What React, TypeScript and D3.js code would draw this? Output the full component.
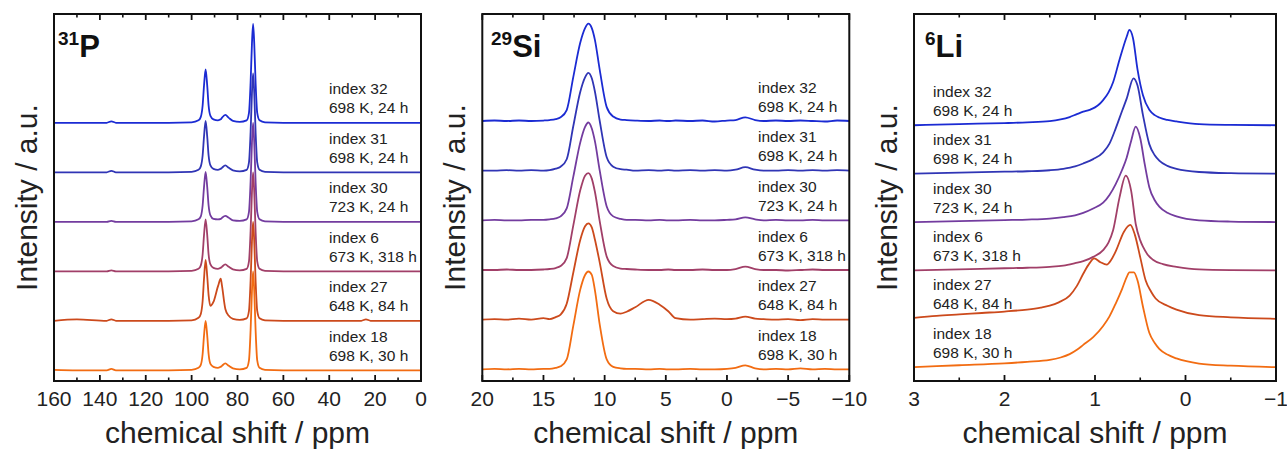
import React from 'react';
import * as d3 from 'd3';

// ---- data ----
const sampleLabels = ['index 32', 'index 31', 'index 30', 'index 6', 'index 27', 'index 18'];
const conditions = ['698 K, 24 h', '698 K, 24 h', '723 K, 24 h', '673 K, 318 h', '648 K, 84 h', '698 K, 30 h'];
const colors = ['#1b2bd3', '#3035b5', '#733c9f', '#a13f68', '#cc4a1c', '#f26c12'];
const offsets = [5, 4, 3, 2, 1, 0];

// 31P
const pShift = [160, 150, 137, 135, 133, 120, 110, 100, 97, 96, 95.2, 94.6, 93.9, 93.2, 92.6, 91.8, 90.5, 88.5, 87.3, 86.8, 85.3, 83.8, 82, 79, 76, 75, 74.3, 73.7, 73.2, 72.7, 72.1, 71.4, 70.4, 68, 60, 40, 26, 24, 22, 10, 0];
const p32 = [0, 0, 0, 0.03, 0, 0, 0, 0.01, 0.05, 0.12, 0.35, 0.75, 1.08, 0.75, 0.35, 0.14, 0.07, 0.05, 0.07, 0.1, 0.16, 0.1, 0.04, 0.02, 0.05, 0.2, 0.8, 1.6, 2.0, 1.6, 0.8, 0.2, 0.05, 0.01, 0, 0, 0, 0, 0, 0, 0];
const p31 = [0, 0, 0, 0.03, 0, 0, 0, 0.01, 0.05, 0.12, 0.34, 0.72, 1.04, 0.72, 0.34, 0.14, 0.07, 0.05, 0.07, 0.09, 0.14, 0.09, 0.04, 0.02, 0.05, 0.2, 0.8, 1.6, 2.0, 1.6, 0.8, 0.2, 0.05, 0.01, 0, 0, 0, 0, 0, 0, 0];
const p30 = [0, 0, 0, 0.02, 0, 0, 0, 0.01, 0.05, 0.11, 0.33, 0.7, 1.01, 0.7, 0.33, 0.13, 0.06, 0.05, 0.06, 0.08, 0.12, 0.08, 0.03, 0.02, 0.05, 0.2, 0.8, 1.6, 2.0, 1.6, 0.8, 0.2, 0.05, 0.01, 0, 0, 0, 0, 0, 0, 0];
const p6 = [0, 0, 0, 0.02, 0, 0, 0, 0.01, 0.05, 0.12, 0.34, 0.73, 1.05, 0.73, 0.34, 0.14, 0.07, 0.05, 0.07, 0.09, 0.14, 0.09, 0.04, 0.02, 0.05, 0.2, 0.8, 1.6, 2.0, 1.6, 0.8, 0.2, 0.05, 0.01, 0, 0, 0, 0, 0, 0, 0];
const p27 = [0, 0.03, 0, 0.03, 0, 0, 0, 0.01, 0.06, 0.14, 0.4, 0.85, 1.23, 0.9, 0.52, 0.3, 0.38, 0.7, 0.85, 0.72, 0.24, 0.1, 0.04, 0.02, 0.05, 0.2, 0.8, 1.6, 2.0, 1.6, 0.8, 0.2, 0.05, 0.01, 0, 0, 0, 0.03, 0, 0, 0];
const p18 = [0.01, 0, 0, 0.03, 0, 0, 0, 0.01, 0.05, 0.11, 0.33, 0.7, 1.0, 0.7, 0.33, 0.13, 0.07, 0.05, 0.07, 0.09, 0.14, 0.09, 0.04, 0.02, 0.05, 0.2, 0.8, 1.6, 2.0, 1.6, 0.8, 0.2, 0.05, 0.01, 0, 0, 0, 0, 0, 0, 0];

// 29Si
const siShift = [20, 19, 18, 17, 16, 15, 14.5, 14, 13.6, 13.1, 12.56, 12.0, 11.6, 11.33, 11.05, 10.8, 10.4, 9.83, 9.3, 8.7, 8.2, 7.5, 6.4, 5.5, 4.8, 4.2, 3, 2, 1, 0, -0.7, -1.5, -2.3, -3, -4, -5, -6, -7, -8, -9, -10];
const si32 = [0, 0.01, 0, 0.01, 0, 0.01, 0.02, 0.04, 0.075, 0.22, 0.89, 1.57, 1.87, 1.96, 1.87, 1.64, 1.03, 0.28, 0.09, 0.03, 0.02, 0.01, 0, 0.01, 0, 0.01, 0, 0.01, -0.01, 0.01, 0.02, 0.075, 0.02, 0, 0.01, 0, 0.01, 0, -0.01, 0.01, 0];
const si31 = [0, 0, 0.01, 0, 0.01, 0, 0.01, 0.04, 0.08, 0.23, 0.9, 1.58, 1.88, 1.97, 1.86, 1.6, 1.0, 0.27, 0.08, 0.03, 0.02, 0, 0.01, 0, 0.01, 0, 0.01, 0, 0.01, 0, 0.02, 0.07, 0.02, 0, 0, 0.01, 0, 0.01, 0, 0.01, 0];
const si30 = [0, 0.01, 0, 0, 0.01, 0.01, 0.02, 0.04, 0.08, 0.24, 0.88, 1.56, 1.88, 1.97, 1.85, 1.6, 1.0, 0.28, 0.08, 0.03, 0.01, 0.01, 0, 0.01, 0, 0, 0.01, 0, 0, 0.01, 0.02, 0.06, 0.02, 0, 0.01, 0, 0, 0.01, 0, 0, 0];
const si6 = [0, 0, 0.01, 0, 0, 0.01, 0.02, 0.04, 0.08, 0.24, 0.9, 1.6, 1.9, 1.95, 1.84, 1.58, 0.98, 0.27, 0.08, 0.03, 0.02, 0.01, 0, 0, 0.01, 0, 0, 0.01, 0, 0, 0.02, 0.07, 0.02, 0, 0, -0.01, 0, 0.01, 0, 0, 0];
const si27 = [0, 0.01, 0, 0.02, 0, 0.03, 0.01, 0.05, 0.1, 0.32, 0.95, 1.6, 1.88, 1.94, 1.86, 1.62, 1.15, 0.42, 0.17, 0.12, 0.16, 0.25, 0.4, 0.3, 0.17, 0.03, 0, 0.01, 0.02, 0.01, 0.02, 0.06, 0.02, 0.01, 0, 0.01, -0.01, 0.01, 0, 0, 0];
const si18 = [0, 0.01, 0, 0.01, 0, 0.01, 0.01, 0.03, 0.06, 0.2, 0.88, 1.6, 1.9, 1.97, 1.9, 1.6, 0.9, 0.2, 0.05, 0.02, 0.01, 0.01, 0, 0.01, 0, 0, 0.01, 0, 0, 0.01, 0.03, 0.08, 0.02, 0, 0.01, 0, 0.02, 0, 0.01, 0, 0];

// 6Li  [ppm, intensity]
const li32: [number, number][] = [[3, 0], [2.5, 0.025], [2.0, 0.045], [1.75, 0.06], [1.5, 0.085], [1.38, 0.12], [1.28, 0.17], [1.2, 0.23], [1.13, 0.28], [1.06, 0.32], [1.0, 0.37], [0.95, 0.44], [0.91, 0.52], [0.85, 0.68], [0.8, 0.89], [0.73, 1.35], [0.65, 1.83], [0.62, 1.97], [0.58, 1.8], [0.53, 1.15], [0.47, 0.62], [0.4, 0.32], [0.34, 0.21], [0.29, 0.16], [0.2, 0.11], [0.1, 0.08], [-0.15, 0.025], [-0.5, 0.008], [-1, 0]];
const li31: [number, number][] = [[3, 0], [2.5, 0.02], [2.0, 0.04], [1.75, 0.05], [1.5, 0.07], [1.35, 0.1], [1.22, 0.15], [1.13, 0.21], [1.02, 0.3], [0.91, 0.44], [0.84, 0.62], [0.77, 0.94], [0.7, 1.3], [0.65, 1.55], [0.574, 1.97], [0.53, 1.82], [0.47, 1.21], [0.4, 0.61], [0.34, 0.38], [0.29, 0.27], [0.2, 0.16], [0.1, 0.1], [-0.15, 0.034], [-0.5, 0.01], [-1, 0]];
const li30: [number, number][] = [[3, 0], [2.5, 0.02], [2.0, 0.04], [1.75, 0.05], [1.5, 0.07], [1.35, 0.1], [1.22, 0.14], [1.13, 0.19], [1.02, 0.28], [0.91, 0.4], [0.84, 0.56], [0.77, 0.79], [0.7, 1.08], [0.65, 1.33], [0.6, 1.68], [0.55, 1.97], [0.5, 1.73], [0.45, 1.19], [0.4, 0.72], [0.34, 0.45], [0.29, 0.32], [0.2, 0.19], [0.1, 0.115], [-0.15, 0.034], [-0.5, 0.01], [-1, 0]];
const li6: [number, number][] = [[3, 0], [2.5, 0.02], [2.0, 0.045], [1.75, 0.055], [1.5, 0.075], [1.35, 0.1], [1.22, 0.15], [1.13, 0.19], [1.02, 0.28], [0.91, 0.42], [0.85, 0.58], [0.8, 0.83], [0.73, 1.5], [0.66, 1.96], [0.6, 1.64], [0.55, 0.96], [0.5, 0.62], [0.47, 0.49], [0.42, 0.33], [0.36, 0.22], [0.25, 0.13], [0.1, 0.075], [-0.15, 0.02], [-0.5, 0.005], [-1, 0]];
const li27: [number, number][] = [[3, 0.02], [2.75, 0.06], [2.5, 0.09], [2.25, 0.12], [2.0, 0.15], [1.75, 0.19], [1.6, 0.23], [1.5, 0.27], [1.4, 0.34], [1.28, 0.48], [1.2, 0.68], [1.13, 0.93], [1.06, 1.15], [1.01, 1.25], [0.94, 1.17], [0.87, 1.12], [0.82, 1.22], [0.77, 1.4], [0.68, 1.8], [0.61, 1.94], [0.56, 1.74], [0.5, 1.27], [0.44, 0.79], [0.38, 0.56], [0.33, 0.42], [0.2, 0.27], [0.1, 0.19], [-0.15, 0.075], [-0.5, 0.03], [-1, 0]];
const li18: [number, number][] = [[3, 0], [2.5, 0.04], [2.0, 0.08], [1.75, 0.11], [1.5, 0.15], [1.38, 0.2], [1.28, 0.27], [1.2, 0.36], [1.13, 0.46], [1.02, 0.62], [0.91, 0.85], [0.84, 1.05], [0.77, 1.32], [0.7, 1.62], [0.65, 1.86], [0.62, 1.96], [0.57, 1.96], [0.53, 1.79], [0.47, 1.25], [0.4, 0.71], [0.34, 0.5], [0.29, 0.38], [0.2, 0.26], [0.1, 0.18], [-0.15, 0.075], [-0.5, 0.03], [-1, 0]];

const zipPts = (xs: number[], ys: number[]): [number, number][] => xs.map((x, i) => [x, ys[i]]);

const FONT = "'Liberation Sans', Arial, Helvetica, sans-serif";

interface Panel {
  left: number; right: number; top: number; bottom: number;
  xDomain: [number, number]; major: number; minor: number;
  yDomain: [number, number];
  sup: string; nuc: string; titleX: number;
  labelX: number;
  series: [number, number][][];
}

const panels: Panel[] = [
  {
    left: 54, right: 421, top: 14, bottom: 381,
    xDomain: [160, 0], major: 20, minor: 10,
    yDomain: [-0.216, 7.198],
    sup: '31', nuc: 'P', titleX: 58, labelX: 329,
    series: [p32, p31, p30, p6, p27, p18].map(v => zipPts(pShift, v)),
  },
  {
    left: 482.3, right: 849.3, top: 14, bottom: 381,
    xDomain: [20, -10], major: 5, minor: 2.5,
    yDomain: [-0.235, 7.155],
    sup: '29', nuc: 'Si', titleX: 491, labelX: 758,
    series: [si32, si31, si30, si6, si27, si18].map(v => zipPts(siShift, v)),
  },
  {
    left: 914, right: 1276, top: 14, bottom: 381,
    xDomain: [3, -1], major: 1, minor: 0.5,
    yDomain: [-0.286, 7.3],
    sup: '6', nuc: 'Li', titleX: 925, labelX: 933,
    series: [li32, li31, li30, li6, li27, li18],
  },
];

function rangeTicks(a: number, b: number, step: number): number[] {
  const lo = Math.min(a, b), hi = Math.max(a, b);
  const out: number[] = [];
  for (let v = lo; v <= hi + 1e-9; v += step) out.push(Math.round(v * 1000) / 1000);
  return out;
}

function PanelView({ p }: { p: Panel }) {
  const x = d3.scaleLinear().domain(p.xDomain).range([p.left, p.right]);
  const y = d3.scaleLinear().domain(p.yDomain).range([p.bottom, p.top]);
  const majors = rangeTicks(p.xDomain[0], p.xDomain[1], p.major);
  const minors = rangeTicks(p.xDomain[0], p.xDomain[1], p.minor).filter(v => !majors.some(m => Math.abs(m - v) < 1e-6));
  const fmt = d3.format('');
  const cx = (p.left + p.right) / 2;
  const cy = (p.top + p.bottom) / 2;
  const clipId = 'clip-' + p.nuc;
  const order = [0, 1, 2, 3, 4, 5];
  return (
    <g>
      <defs>
        <clipPath id={clipId}>
          <rect x={p.left} y={p.top} width={p.right - p.left} height={p.bottom - p.top} />
        </clipPath>
      </defs>
      <g clipPath={`url(#${clipId})`}>
        {order.map(i => {
          const off = offsets[i];
          const line = d3.line<[number, number]>()
            .x(d => x(d[0]))
            .y(d => y(d[1] + off))
            .curve(d3.curveMonotoneX);
          const pts = [...p.series[i]].sort((a, b) => a[0] - b[0]);
          return <path key={i} d={line(pts) || ''} fill="none" stroke={colors[i]} strokeWidth={1.8} strokeLinejoin="round" />;
        })}
      </g>
      {order.map(i => {
        const base = y(offsets[i]);
        return (
          <g key={'lab' + i} fontFamily={FONT} fontSize={15.5} fill="#222">
            <text x={p.labelX} y={base - 28.5}>{sampleLabels[i]}</text>
            <text x={p.labelX} y={base - 9.5}>{conditions[i]}</text>
          </g>
        );
      })}
      <rect x={p.left} y={p.top} width={p.right - p.left} height={p.bottom - p.top} fill="none" stroke="#111" strokeWidth={2} />
      {majors.map(v => (
        <g key={'M' + v}>
          <line x1={x(v)} x2={x(v)} y1={p.bottom} y2={p.bottom - 6} stroke="#111" strokeWidth={1.8} />
          <line x1={x(v)} x2={x(v)} y1={p.top} y2={p.top + 6} stroke="#111" strokeWidth={1.8} />
          <text x={x(v)} y={406} textAnchor="middle" fontFamily={FONT} fontSize={21} fill="#222">{fmt(v)}</text>
        </g>
      ))}
      {minors.map(v => (
        <g key={'m' + v}>
          <line x1={x(v)} x2={x(v)} y1={p.bottom} y2={p.bottom - 3.5} stroke="#111" strokeWidth={1.6} />
          <line x1={x(v)} x2={x(v)} y1={p.top} y2={p.top + 3.5} stroke="#111" strokeWidth={1.6} />
        </g>
      ))}
      <text x={cx} y={443} textAnchor="middle" fontFamily={FONT} fontSize={30} fill="#222">chemical shift / ppm</text>
      <text transform={`translate(${p.left - 17.5},${cy}) rotate(-90)`} textAnchor="middle" fontFamily={FONT} fontSize={30} fill="#222">Intensity / a.u.</text>
      <text fontFamily={FONT} fontWeight="bold" fill="#111">
        <tspan x={p.titleX} y={45} fontSize={19}>{p.sup}</tspan>
        <tspan y={57} fontSize={31}>{p.nuc}</tspan>
      </text>
    </g>
  );
}

export default function App() {
  return (
    <svg width={1287} height={449} viewBox="0 0 1287 449" style={{ position: 'absolute', left: 0, top: 0, background: '#fff' }}>
      <rect x={0} y={0} width={1287} height={449} fill="#fff" />
      {panels.map(p => <PanelView key={p.nuc} p={p} />)}
    </svg>
  );
}
